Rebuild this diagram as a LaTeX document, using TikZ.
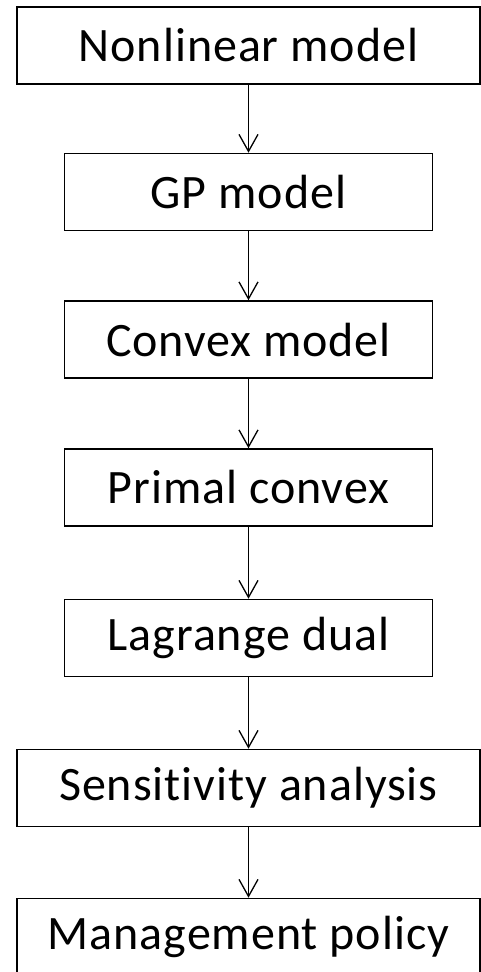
\documentclass[tikz,border=0pt]{standalone}
\usepackage{fontspec}
\setmainfont{Carlito}[Ligatures=NoCommon, LetterSpace=2]
\usetikzlibrary{arrows.meta}
\begin{document}
\begin{tikzpicture}[x=1pt,y=-1pt,
  stepbox/.style={draw=black, line width=1.6pt, inner sep=0pt,
    minimum height=77pt, font=\fontsize{48}{52}\selectfont},
  wide/.style={stepbox, minimum width=463pt},
  narrow/.style={stepbox, minimum width=368pt},
  flow/.style={draw=black, line width=1.3pt,
    -{Straight Barb[length=17pt, width=19pt, line width=1.3pt]}}]
  \useasboundingbox (0,0) rectangle (481,972);
  \clip (0,0) rectangle (481,972);
  \node[wide]   (nl)   at (248.5,45.5) {Nonlinear model};
  \node[narrow] (gp)   at (248.5,192) {GP model};
  \node[narrow] (cvx)  at (248.5,339.5) {Convex model};
  \node[narrow] (pr)   at (248.5,487.5) {Primal convex};
  \node[narrow] (ld)   at (248.5,638) {Lagrange dual};
  \node[wide]   (sa)   at (248.5,788) {Sensitivity analysis};
  \node[wide]   (mp)   at (248.5,937) {Management policy};
  \draw[flow] (nl.south)  -- (gp.north);
  \draw[flow] (gp.south)  -- (cvx.north);
  \draw[flow] (cvx.south) -- (pr.north);
  \draw[flow] (pr.south)  -- (ld.north);
  \draw[flow] (ld.south)  -- (sa.north);
  \draw[flow] (sa.south)  -- (mp.north);
\end{tikzpicture}
\end{document}
